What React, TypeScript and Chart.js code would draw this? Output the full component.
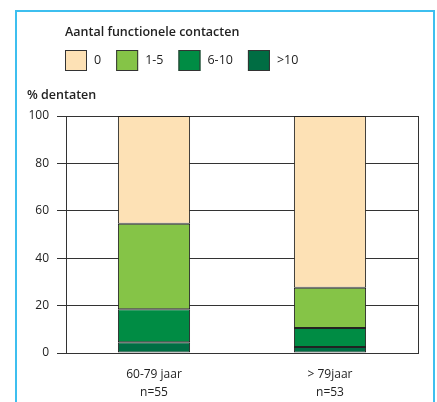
import React, { useEffect, useRef } from "react";
import { Chart, registerables } from "chart.js";

Chart.register(...registerables);

const categories: string[][] = [["60-79 jaar", "n=55"], ["> 79jaar", "n=53"]];
const seriesNames = [">10", "6-10", "1-5", "0"];
const valuesGt10 = [4.5, 2.5];
const values6to10 = [14, 8];
const values1to5 = [36, 17];
const values0 = [45.5, 72.5];
const seriesColors = ["#006d43", "#008c44", "#85c447", "#fde1b5"];
const yTicks = [0, 20, 40, 60, 80, 100];
const legendTitle = "Aantal functionele contacten";
const yTitle = "% dentaten";

const FONT = "'Open Sans', sans-serif";

const legendPlugin = {
  id: "customLegend",
  afterDraw(chart: any) {
    const ctx = chart.ctx as CanvasRenderingContext2D;
    ctx.save();
    ctx.fillStyle = "#222";
    ctx.textBaseline = "middle";
    ctx.textAlign = "left";
    ctx.font = `600 12.5px ${FONT}`;
    ctx.fillText(legendTitle, 65, 32);
    ctx.fillText(yTitle, 27, 95);
    ctx.font = `12.5px ${FONT}`;
    let x = 65;
    const ds = [...chart.data.datasets].reverse();
    for (const d of ds) {
      ctx.fillStyle = d.backgroundColor;
      ctx.fillRect(x, 50, 22, 21);
      ctx.strokeStyle = "#333";
      ctx.lineWidth = 1;
      ctx.strokeRect(x + 0.5, 50.5, 21, 20);
      ctx.fillStyle = "#222";
      ctx.fillText(d.label, x + 29, 60);
      x += 29 + ctx.measureText(d.label).width + 15;
    }
    ctx.restore();
  },
};

export default function App() {
  const ref = useRef<HTMLCanvasElement>(null);
  useEffect(() => {
    if (!ref.current) return;
    const seriesValues = [valuesGt10, values6to10, values1to5, values0];
    const chart = new Chart(ref.current, {
      type: "bar",
      data: {
        labels: categories,
        datasets: seriesNames.map((name, i) => ({
          label: name,
          data: seriesValues[i],
          backgroundColor: seriesColors[i],
          borderColor: "#222",
          borderWidth: 1,
          borderSkipped: false,
          barPercentage: 0.41,
          categoryPercentage: 1,
        })),
      },
      options: {
        animation: false,
        responsive: false,
        maintainAspectRatio: false,
        layout: { padding: { left: 27, right: 19, top: 116, bottom: 0 } },
        plugins: {
          legend: { display: false },
          title: { display: false },
          tooltip: { enabled: false },
        },
        scales: {
          x: {
            stacked: true,
            afterFit: (s: any) => {
              s.height = 49;
            },
            grid: {
              offset: true,
              drawTicks: false,
              color: (c: any) => (c.index === 1 ? "rgba(0,0,0,0)" : "#333"),
              lineWidth: 1,
            },
            border: { color: "#333", width: 1 },
            ticks: {
              padding: 13,
              color: "#222",
              font: { family: FONT, size: 12, lineHeight: 1.5 },
              maxRotation: 0,
            },
          },
          y: {
            stacked: true,
            min: 0,
            max: 100,
            afterFit: (s: any) => {
              s.width = 39;
            },
            afterBuildTicks: (s: any) => {
              s.ticks = yTicks.map((v) => ({ value: v }));
            },
            grid: { color: "#333", lineWidth: 1, tickLength: 9, drawTicks: true },
            border: { color: "#333", width: 1 },
            ticks: {
              padding: 8,
              color: "#222",
              font: { family: FONT, size: 12 },
            },
          },
        },
      },
      plugins: [legendPlugin],
    });
    return () => chart.destroy();
  }, []);
  return (
    <div style={{ position: "absolute", left: 0, top: 0, width: 437, height: 402, overflow: "hidden", background: "#fff" }}>
      <div
        style={{
          position: "absolute",
          left: 15,
          top: 10,
          width: 416,
          height: 420,
          border: "2px solid #3dbfef",
        }}
      />
      <canvas ref={ref} width={437} height={402} style={{ position: "absolute", left: 0, top: 0 }} />
    </div>
  );
}
